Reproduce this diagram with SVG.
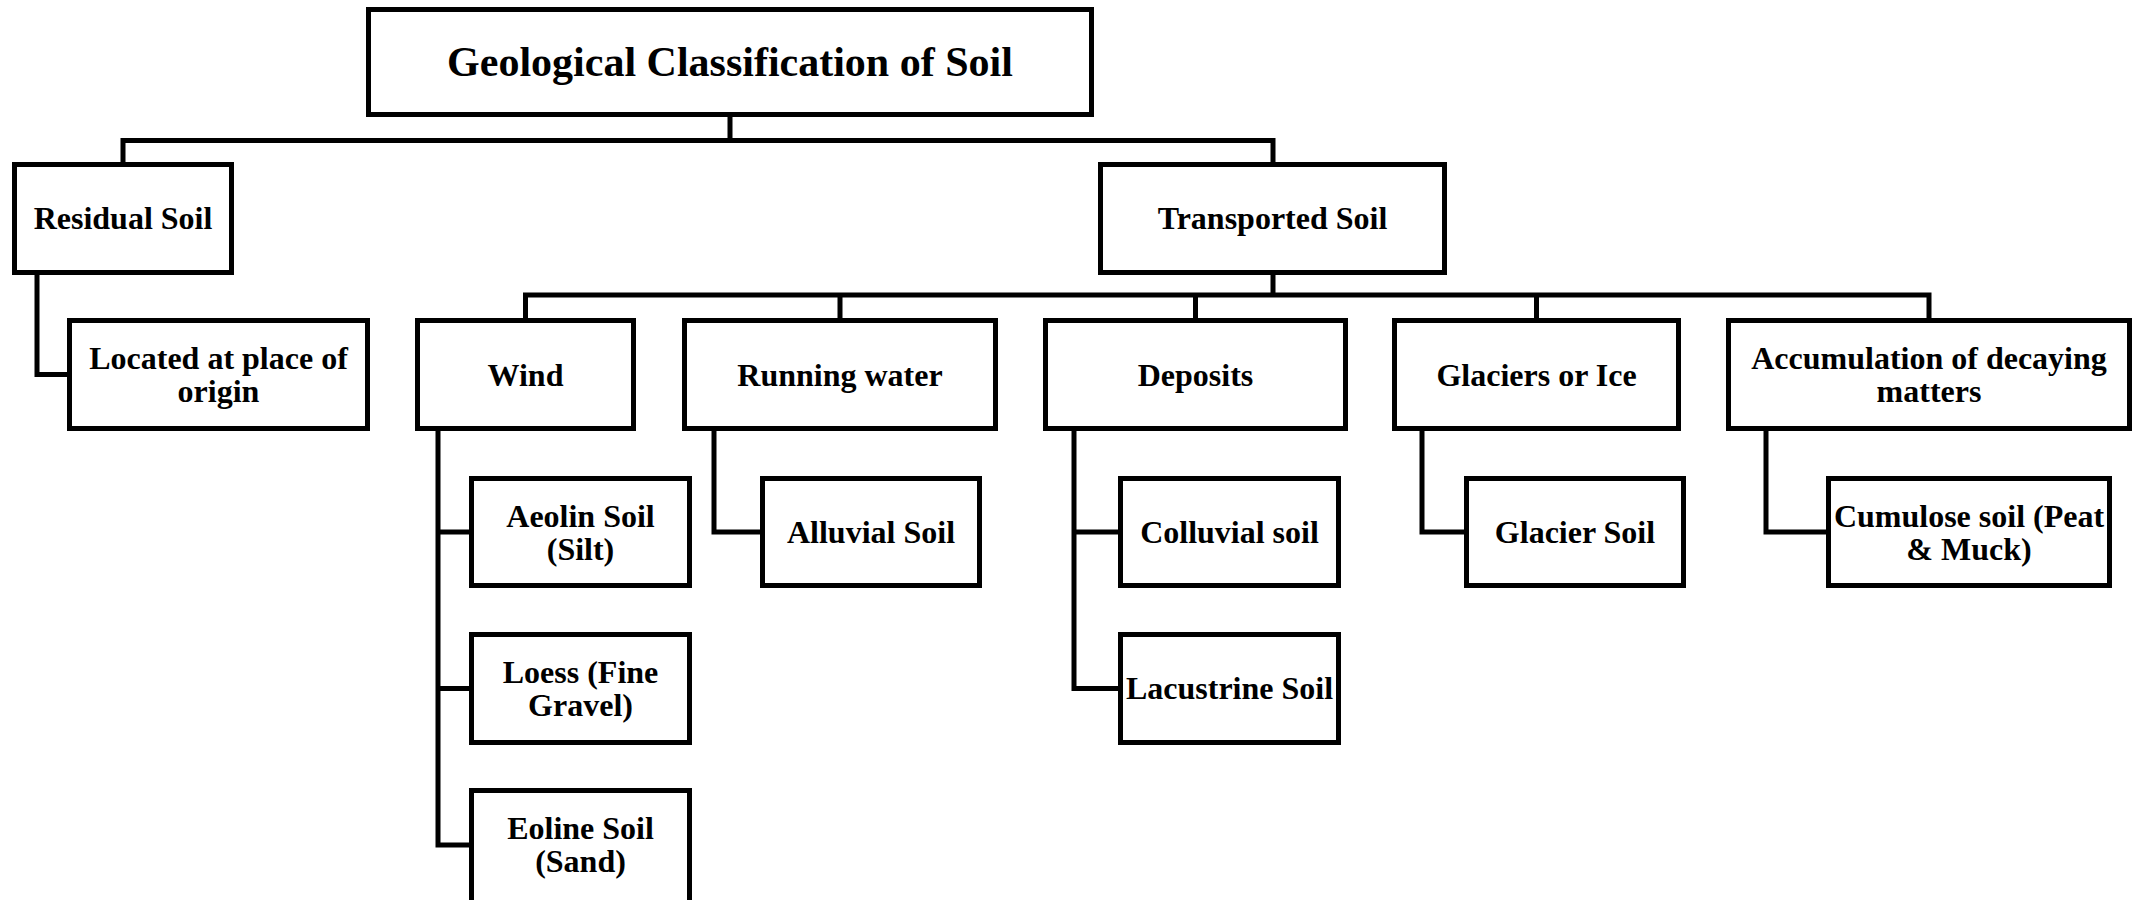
<svg xmlns="http://www.w3.org/2000/svg" width="2137" height="900" viewBox="0 0 2137 900">
<style>
.box{fill:#fff;stroke:#000;stroke-width:5}
.t{font-family:"Liberation Serif","Times New Roman",serif;font-weight:bold;font-size:32px;text-anchor:middle;fill:#000}
.title{font-size:42px}
#connectors path{fill:none;stroke:#000;stroke-width:5;stroke-linejoin:miter;stroke-linecap:square}
</style>
<rect width="2137" height="900" fill="#fff"/>
<g id="connectors">
<path d="M730,117 V140.5 M123,140.5 H1273 M123,140.5 V162 M1273,140.5 V162"/>
<path d="M37,275 V374.5 H67"/>
<path d="M1273,275 V295 M525.5,295 H1929 M525.5,295 V318 M840,295 V318 M1195.5,295 V318 M1536.5,295 V318 M1929,295 V318"/>
<path d="M438,431 V845 H469 M438,532 H469 M438,688.5 H469"/>
<path d="M714,431 V532 H760"/>
<path d="M1074,431 V688.5 H1118 M1074,532 H1118"/>
<path d="M1422,431 V532 H1464"/>
<path d="M1766,431 V532 H1826"/>
</g>
<g id="title"><rect class="box" x="368.5" y="9.5" width="723" height="105"/><text class="t title" x="730" y="76">Geological Classification of Soil</text></g>
<g id="residual"><rect class="box" x="14.5" y="164.5" width="217" height="108"/><text class="t" x="123" y="229">Residual Soil</text></g>
<g id="transported"><rect class="box" x="1100.5" y="164.5" width="344" height="108"/><text class="t" x="1272.5" y="229">Transported Soil</text></g>
<g id="located"><rect class="box" x="69.5" y="320.5" width="298" height="108"/><text class="t" x="218.5" y="369">Located at place of</text><text class="t" x="218.5" y="402">origin</text></g>
<g id="wind"><rect class="box" x="417.5" y="320.5" width="216" height="108"/><text class="t" x="525.5" y="386">Wind</text></g>
<g id="running"><rect class="box" x="684.5" y="320.5" width="311" height="108"/><text class="t" x="840" y="386">Running water</text></g>
<g id="deposits"><rect class="box" x="1045.5" y="320.5" width="300" height="108"/><text class="t" x="1195.5" y="386">Deposits</text></g>
<g id="glaciers"><rect class="box" x="1394.5" y="320.5" width="284" height="108"/><text class="t" x="1536.5" y="386">Glaciers or Ice</text></g>
<g id="accumulation"><rect class="box" x="1728.5" y="320.5" width="401" height="108"/><text class="t" x="1929" y="369">Accumulation of decaying</text><text class="t" x="1929" y="402">matters</text></g>
<g id="aeolin"><rect class="box" x="471.5" y="478.5" width="218" height="107"/><text class="t" x="580.5" y="527">Aeolin Soil</text><text class="t" x="580.5" y="560">(Silt)</text></g>
<g id="loess"><rect class="box" x="471.5" y="634.5" width="218" height="108"/><text class="t" x="580.5" y="683">Loess (Fine</text><text class="t" x="580.5" y="716">Gravel)</text></g>
<g id="eoline"><rect class="box" x="471.5" y="790.5" width="218" height="112"/><text class="t" x="580.5" y="839">Eoline Soil</text><text class="t" x="580.5" y="872">(Sand)</text></g>
<g id="alluvial"><rect class="box" x="762.5" y="478.5" width="217" height="107"/><text class="t" x="871" y="543">Alluvial Soil</text></g>
<g id="colluvial"><rect class="box" x="1120.5" y="478.5" width="218" height="107"/><text class="t" x="1229.5" y="543">Colluvial soil</text></g>
<g id="lacustrine"><rect class="box" x="1120.5" y="634.5" width="218" height="108"/><text class="t" x="1229.5" y="699">Lacustrine Soil</text></g>
<g id="glacier-soil"><rect class="box" x="1466.5" y="478.5" width="217" height="107"/><text class="t" x="1575" y="543">Glacier Soil</text></g>
<g id="cumulose"><rect class="box" x="1828.5" y="478.5" width="281" height="107"/><text class="t" x="1969" y="527">Cumulose soil (Peat</text><text class="t" x="1969" y="560">&amp; Muck)</text></g>
</svg>
